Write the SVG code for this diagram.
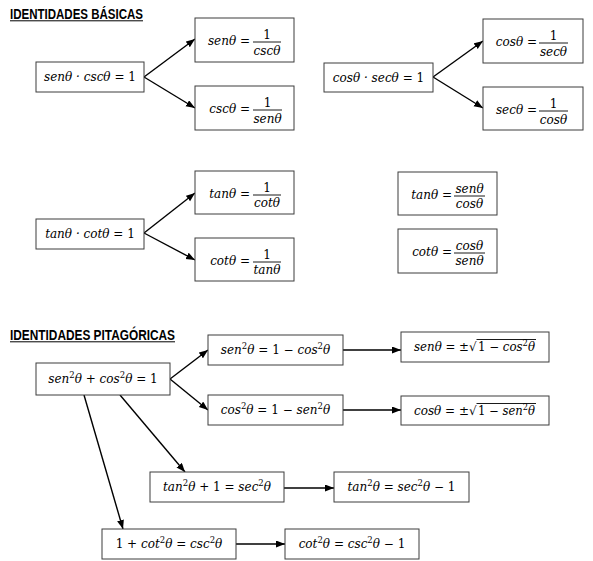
<svg xmlns="http://www.w3.org/2000/svg" width="593" height="561" viewBox="0 0 593 561">
<style>
.b{fill:#fff;stroke:#3c3c3c;stroke-width:1}
.m{font-family:"DejaVu Serif",serif;font-style:italic;font-size:12px;fill:#000}
.mc{font-family:"DejaVu Serif",serif;font-style:italic;font-size:12px;fill:#000;text-anchor:middle}
.me{font-family:"DejaVu Serif",serif;font-style:italic;font-size:12px;fill:#000;text-anchor:end}
.u{font-style:normal}
.s{font-style:normal;font-size:8.5px}
.t{font-family:"Liberation Sans",Arial,sans-serif;font-weight:bold;font-size:14px;fill:#000}
.fb{stroke:#000;stroke-width:0.9}
.c{stroke:#000;stroke-width:1.4;fill:none;marker-end:url(#ah)}
</style>
<defs>
<marker id="ah" markerUnits="userSpaceOnUse" markerWidth="10" markerHeight="8" refX="9" refY="3.5" orient="auto">
<path d="M0,0 L9,3.5 L0,7 z" fill="#000"/>
</marker>
</defs>
<rect width="593" height="561" fill="#fff"/>

<g id="title1">
<text class="t" x="10" y="18.5" textLength="133" lengthAdjust="spacingAndGlyphs">IDENTIDADES BÁSICAS</text>
<line x1="10" y1="20.8" x2="143" y2="20.8" stroke="#000" stroke-width="1"/>
</g>
<g id="title2">
<text class="t" x="10" y="339.5" textLength="165" lengthAdjust="spacingAndGlyphs">IDENTIDADES PITAGÓRICAS</text>
<line x1="10" y1="341.8" x2="175" y2="341.8" stroke="#000" stroke-width="1"/>
</g>

<g id="connectors">
<line class="c" x1="144" y1="77" x2="195" y2="39"/>
<line class="c" x1="144" y1="77" x2="195" y2="108"/>
<line class="c" x1="433" y1="77" x2="483" y2="41"/>
<line class="c" x1="433" y1="77" x2="483" y2="108"/>
<line class="c" x1="144" y1="233" x2="195" y2="193"/>
<line class="c" x1="144" y1="233" x2="195" y2="260"/>
<line class="c" x1="170" y1="379" x2="208" y2="350"/>
<line class="c" x1="170" y1="379" x2="208" y2="410"/>
<line class="c" x1="343" y1="350" x2="401" y2="350"/>
<line class="c" x1="343" y1="410" x2="401" y2="410"/>
<line class="c" x1="120" y1="395" x2="185" y2="472"/>
<line class="c" x1="84" y1="395" x2="123" y2="529"/>
<line class="c" x1="284" y1="488" x2="334" y2="488"/>
<line class="c" x1="236" y1="544" x2="285" y2="544"/>
</g>

<g id="n-sencsc">
<rect class="b" x="36" y="62" width="108" height="30"/>
<text class="mc" x="90" y="81">senθ · cscθ = <tspan class="u">1</tspan></text>
</g>
<g id="n-sen-inv">
<rect class="b" x="195" y="18" width="99" height="44"/>
<text class="me" x="250" y="45">senθ =</text>
<text class="mc u" x="267" y="38.5">1</text>
<line class="fb" x1="253" y1="42" x2="281" y2="42"/>
<text class="mc" x="267" y="54.5">cscθ</text>
</g>
<g id="n-csc-inv">
<rect class="b" x="195" y="86" width="99" height="44"/>
<text class="me" x="250" y="113">cscθ =</text>
<text class="mc u" x="267.5" y="106.5">1</text>
<line class="fb" x1="253" y1="110" x2="282" y2="110"/>
<text class="mc" x="267.5" y="122.5">senθ</text>
</g>

<g id="n-cossec">
<rect class="b" x="324" y="63" width="109" height="29"/>
<text class="mc" x="378.5" y="82">cosθ · secθ = <tspan class="u">1</tspan></text>
</g>
<g id="n-cos-inv">
<rect class="b" x="483" y="19" width="100" height="44"/>
<text class="me" x="537" y="46">cosθ =</text>
<text class="mc u" x="553.5" y="39.5">1</text>
<line class="fb" x1="539" y1="43" x2="568" y2="43"/>
<text class="mc" x="553.5" y="55.5">secθ</text>
</g>
<g id="n-sec-inv">
<rect class="b" x="483" y="87" width="100" height="43"/>
<text class="me" x="537" y="114">secθ =</text>
<text class="mc u" x="553.5" y="107.5">1</text>
<line class="fb" x1="539" y1="111" x2="568" y2="111"/>
<text class="mc" x="553.5" y="123.5">cosθ</text>
</g>

<g id="n-tancot">
<rect class="b" x="36" y="219" width="108" height="30"/>
<text class="mc" x="90" y="238">tanθ · cotθ = <tspan class="u">1</tspan></text>
</g>
<g id="n-tan-inv">
<rect class="b" x="195" y="171" width="99" height="43"/>
<text class="me" x="250" y="198">tanθ =</text>
<text class="mc u" x="267" y="191.5">1</text>
<line class="fb" x1="253" y1="195" x2="281" y2="195"/>
<text class="mc" x="267" y="206.5">cotθ</text>
</g>
<g id="n-cot-inv">
<rect class="b" x="195" y="238" width="99" height="43"/>
<text class="me" x="250" y="265">cotθ =</text>
<text class="mc u" x="267" y="258.5">1</text>
<line class="fb" x1="253" y1="262" x2="281" y2="262"/>
<text class="mc" x="267" y="273.5">tanθ</text>
</g>

<g id="n-tan-quot">
<rect class="b" x="398" y="172" width="99" height="43"/>
<text class="me" x="452" y="199">tanθ =</text>
<text class="mc" x="469.5" y="192.5">senθ</text>
<line class="fb" x1="454" y1="196" x2="485" y2="196"/>
<text class="mc" x="469.5" y="207.5">cosθ</text>
</g>
<g id="n-cot-quot">
<rect class="b" x="398" y="229" width="99" height="44"/>
<text class="me" x="452" y="256">cotθ =</text>
<text class="mc" x="469.5" y="249.5">cosθ</text>
<line class="fb" x1="454" y1="253" x2="485" y2="253"/>
<text class="mc" x="469.5" y="264.5">senθ</text>
</g>

<g id="n-pit">
<rect class="b" x="36" y="363" width="134" height="32"/>
<text class="mc" x="103" y="383">sen<tspan class="s" dy="-5">2</tspan><tspan dy="5">θ + cos</tspan><tspan class="s" dy="-5">2</tspan><tspan dy="5">θ = </tspan><tspan class="u">1</tspan></text>
</g>
<g id="n-sen2">
<rect class="b" x="208" y="335" width="135" height="30"/>
<text class="mc" x="275.5" y="354">sen<tspan class="s" dy="-5">2</tspan><tspan dy="5">θ = </tspan><tspan class="u">1</tspan> − cos<tspan class="s" dy="-5">2</tspan><tspan dy="5">θ</tspan></text>
</g>
<g id="n-cos2">
<rect class="b" x="208" y="395" width="135" height="30"/>
<text class="mc" x="275.5" y="414">cos<tspan class="s" dy="-5">2</tspan><tspan dy="5">θ = </tspan><tspan class="u">1</tspan> − sen<tspan class="s" dy="-5">2</tspan><tspan dy="5">θ</tspan></text>
</g>
<g id="n-sen-root">
<rect class="b" x="401" y="332" width="148" height="30"/>
<text class="m" x="414" y="351" textLength="55" lengthAdjust="spacingAndGlyphs">senθ = <tspan class="u">±</tspan></text>
<text class="m u" x="469" y="351">√</text>
<line class="fb" x1="476.5" y1="339.5" x2="536" y2="339.5"/>
<text class="m" x="478" y="351" textLength="57" lengthAdjust="spacingAndGlyphs"><tspan class="u">1</tspan> − cos<tspan class="s" dy="-5">2</tspan><tspan dy="5">θ</tspan></text>
</g>
<g id="n-cos-root">
<rect class="b" x="401" y="396" width="148" height="29"/>
<text class="m" x="414" y="415" textLength="55" lengthAdjust="spacingAndGlyphs">cosθ = <tspan class="u">±</tspan></text>
<text class="m u" x="469" y="415">√</text>
<line class="fb" x1="476.5" y1="403.5" x2="536" y2="403.5"/>
<text class="m" x="478" y="415" textLength="57" lengthAdjust="spacingAndGlyphs"><tspan class="u">1</tspan> − sen<tspan class="s" dy="-5">2</tspan><tspan dy="5">θ</tspan></text>
</g>

<g id="n-tan2">
<rect class="b" x="150" y="472" width="134" height="30"/>
<text class="mc" x="217" y="491">tan<tspan class="s" dy="-5">2</tspan><tspan dy="5">θ + </tspan><tspan class="u">1</tspan> = sec<tspan class="s" dy="-5">2</tspan><tspan dy="5">θ</tspan></text>
</g>
<g id="n-tan2b">
<rect class="b" x="334" y="472" width="135" height="30"/>
<text class="mc" x="401.5" y="491">tan<tspan class="s" dy="-5">2</tspan><tspan dy="5">θ = sec</tspan><tspan class="s" dy="-5">2</tspan><tspan dy="5">θ − </tspan><tspan class="u">1</tspan></text>
</g>
<g id="n-cot2">
<rect class="b" x="102" y="529" width="134" height="30"/>
<text class="mc" x="169" y="548"><tspan class="u">1</tspan> + cot<tspan class="s" dy="-5">2</tspan><tspan dy="5">θ = csc</tspan><tspan class="s" dy="-5">2</tspan><tspan dy="5">θ</tspan></text>
</g>
<g id="n-cot2b">
<rect class="b" x="285" y="529" width="134" height="30"/>
<text class="mc" x="352" y="548">cot<tspan class="s" dy="-5">2</tspan><tspan dy="5">θ = csc</tspan><tspan class="s" dy="-5">2</tspan><tspan dy="5">θ − </tspan><tspan class="u">1</tspan></text>
</g>
</svg>
